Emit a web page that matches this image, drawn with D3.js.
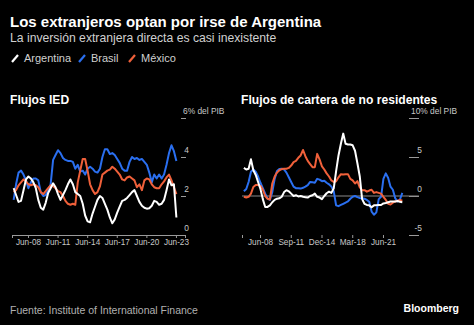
<!DOCTYPE html>
<html>
<head>
<meta charset="utf-8">
<script src="https://cdn.jsdelivr.net/npm/d3@7"></script>
<style>
  html, body { margin: 0; padding: 0; background: #000; }
  svg { display: block; font-family: "Liberation Sans", Arial, sans-serif; }
</style>
</head>
<body>
<svg id="chart" width="474" height="325"></svg>
<script>
var WIDTH = 474;
var HEIGHT = 325;

var seriesNames = ['Argentina', 'Brasil', 'México'];
var seriesColors = ['#ffffff', '#2a6ff0', '#f0603a'];

// Flujos IED, % del PIB, quarterly from Q1 2007
var iedStart = new Date(2007, 0, 1);
var iedArgentina = [2.4, 2.05, 1.7, 1.75, 2.3, 2.85, 3.0, 2.9, 2.7, 2.4, 1.8, 1.4, 1.3, 1.65, 2.15, 2.4,
    2.65, 2.45, 2.1, 1.8, 2.05, 2.3, 2.6, 2.85, 2.6, 2.2, 2.1, 2.0, 1.6, 1.0, 0.7, 0.65,
    1.1, 1.45, 1.8, 2.0, 1.9, 1.6, 1.3, 0.9, 0.6, 0.8, 1.15, 1.45, 1.75, 1.8, 1.9, 2.05,
    2.2, 2.3, 2.0, 1.7, 1.5, 1.4, 1.35, 1.37, 1.5, 1.75, 1.7, 1.55, 1.6, 1.8, 2.3, 2.85,
    2.55, 2.6, 0.9];
var iedBrasil = [1.8, 2.6, 3.2, 3.3, 3.1, 2.8, 2.4, 2.7, 2.9, 2.9, 2.8, 2.2, 2.0, 2.05, 2.3, 2.6,
    3.85, 4.1, 4.35, 4.2, 3.95, 3.85, 3.8, 3.8, 3.75, 3.4, 3.6, 3.25, 3.3, 3.1, 3.4, 3.5,
    3.4, 3.25, 3.2, 3.4, 4.0, 4.4, 4.4, 4.15, 4.2, 4.1, 3.9, 3.7, 3.4, 3.3, 3.3, 3.75,
    4.0, 3.9, 3.95, 3.85, 3.9, 3.75, 3.6, 3.2, 2.7, 3.1, 2.9, 3.1, 2.9, 3.1, 3.6, 4.2,
    4.6, 4.3, 3.8];
var iedMexico = [2.2, 2.3, 2.55, 2.7, 2.85, 2.75, 2.6, 2.55, 2.6, 2.55, 2.45, 2.2, 2.1, 2.25, 2.4, 2.55,
    2.5, 2.4, 2.25, 2.2, 2.0, 1.75, 1.6, 1.55, 1.6, 1.55, 2.7, 3.3, 3.9, 3.9, 3.3, 2.6,
    2.3, 2.1, 2.2, 2.5, 3.1, 3.2, 3.3, 3.35, 3.5, 3.4, 3.25, 3.1, 2.85, 2.8, 2.95, 3.0,
    2.9, 2.8, 2.45, 2.6, 2.3, 2.8, 2.9, 2.85, 2.6, 2.45, 2.4, 2.4, 2.6, 2.75, 2.95, 3.1,
    2.8, 2.45, 2.1];

// Flujos de cartera de no residentes, % del PIB, quarterly from Q4 2006
var carteraStart = new Date(2006, 9, 1);
var carteraArgentina = [3.6, 3.4, 3.5, 4.7, 3.3, 2.7, 1.8, 0.9, -0.4, -1.4, -1.4, -1.2, -0.8, -0.5, -0.35, -0.3,
    -0.1, 0.5, 0.75, 0.6, 0.3, 0.0, 0.1, -0.05, 0.0, -0.1, -0.15, -0.2, 0.0, 0.1, 0.3, -0.1,
    -0.2, -0.4, 0.0, 0.35, 0.55, 0.4, 1.0, 3.2, 5.2, 6.7, 8.0, 6.7, 6.6, 6.6, 6.5, 5.8,
    4.2, 2.5, -0.4, -1.0, -1.15, -1.2, -1.45, -1.2, -1.2, -1.15, -1.15, -0.95, -0.9, -0.8, -0.7, -0.7,
    -0.7, -0.65, -0.75, -0.8];
var carteraBrasil = [0.6, 0.9, 1.8, 3.1, 3.4, 3.1, 2.5, 1.7, 1.0, 0.3, -0.3, -0.5, 0.5, 2.2, 3.2, 3.45,
    3.5, 3.4, 3.0, 2.4, 1.8, 1.2, 1.0, 1.0, 0.95, 1.05, 1.2, 1.4, 1.8, 1.75, 1.7, 2.2,
    2.1, 1.9, 1.95, 1.7, 1.5, 1.2, 0.6, -1.2, -1.3, -1.15, -1.0, -0.85, -0.7, -0.35, -0.1, 0.0,
    -0.15, -0.25, -0.3, -0.35, -0.5, -0.75, -2.0, -2.4, -2.1, -0.4, -0.1, 2.2, 2.9, 2.3, 1.2, 0.8,
    -0.3, -0.7, -0.45, 0.4];
var carteraMexico = [-0.1, -0.2, -0.1, 0.3, 1.15, 1.4, 1.4, 1.3, 0.8, 0.0, -0.35, -0.45, 1.6, 2.5, 3.0, 3.3,
    3.45, 3.5, 3.5, 3.6, 3.9, 4.35, 4.5, 4.9, 5.2, 5.9, 5.1, 4.5, 4.1, 3.7, 3.7, 5.4,
    4.7, 3.8, 3.4, 2.9, 2.5, 2.0, 1.8, 1.9, 2.4, 2.8, 2.75, 2.8, 2.8, 2.2, 2.0, 1.6,
    1.9, 1.1, 0.75, 0.75, 0.55, 0.7, 0.8, 0.4, 0.5, 0.4, 0.3, -0.1, -0.5, -1.0, -1.1, -0.85,
    -0.7, -0.6, -0.5, -0.6];

var iedTicks = [0, 2, 4, 6];
var carteraTicks = [-5, 0, 5, 10];
var iedDateTicks = [new Date(2008, 5, 15), new Date(2011, 5, 15), new Date(2014, 5, 15),
    new Date(2017, 5, 15), new Date(2020, 5, 15), new Date(2023, 5, 15)];
var carteraDateTicks = [new Date(2008, 5, 15), new Date(2011, 8, 15), new Date(2014, 11, 15),
    new Date(2018, 2, 15), new Date(2021, 5, 15)];

var svg = d3.select('#chart');
svg.append('rect').attr('width', WIDTH).attr('height', HEIGHT).attr('fill', '#000');

// header
svg.append('text').attr('x', 10).attr('y', 27)
    .attr('fill', '#fff').attr('font-size', 15).attr('font-weight', 'bold')
    .text('Los extranjeros optan por irse de Argentina');
svg.append('text').attr('x', 10).attr('y', 42)
    .attr('fill', '#d0d0d0').attr('font-size', 12.2)
    .text('La inversión extranjera directa es casi inexistente');

var legendX = [11, 78, 128];
var legend = svg.append('g').selectAll('g')
    .data(seriesNames)
    .enter().append('g')
    .attr('transform', function(d, i){ return 'translate(' + legendX[i] + ',0)'; });
legend.append('line')
    .attr('x1', 1).attr('y1', 62).attr('x2', 7).attr('y2', 55)
    .attr('stroke', function(d, i){ return seriesColors[i]; })
    .attr('stroke-width', 2.2);
legend.append('text')
    .attr('x', 13).attr('y', 62)
    .attr('fill', '#d0d0d0').attr('font-size', 11)
    .text(function(d){ return d; });

var quarters = function(start, n){
    return d3.range(n).map(function(i){ return d3.timeMonth.offset(start, 3 * i); });
};

var drawPanel = function(opts){
    var g = svg.append('g');
    var dates = quarters(opts.start, opts.series[0].length);

    g.append('text').attr('x', opts.titleX).attr('y', 104)
        .attr('fill', '#fff').attr('font-size', 12.1).attr('font-weight', 'bold')
        .text(opts.title);

    var x = d3.scaleTime().domain(opts.xDomain).range(opts.xRange);
    var y = d3.scaleLinear().domain([opts.yTicks[0], opts.yTicks[opts.yTicks.length - 1]])
        .range([235, 118]);

    // y axis on the right: tick lines with labels sitting above them
    var yAxis = d3.axisRight(y).tickValues(opts.yTicks).tickSize(opts.tickLen)
        .tickFormat(function(d, i){ return i === opts.yTicks.length - 1 ? d + '% del PIB' : d; });
    var ya = g.append('g')
        .attr('transform', 'translate(' + opts.yAxisX + ',0)')
        .call(yAxis);
    ya.select('.domain').remove();
    ya.selectAll('line').attr('stroke', '#9a9a9a');
    ya.selectAll('text')
        .attr('fill', '#c8c8c8').attr('font-size', 8.4)
        .attr('dy', '-0.55em').attr('y', 0)
        .attr('text-anchor', function(d, i){ return i === opts.yTicks.length - 1 ? 'start' : 'end'; })
        .attr('x', function(d, i){ return i === opts.yTicks.length - 1 ? 2 : opts.tickLen + 3; });

    if (opts.zeroLine) {
        g.append('line')
            .attr('x1', opts.xRange[0]).attr('x2', opts.yAxisX + opts.tickLen)
            .attr('y1', y(0)).attr('y2', y(0))
            .attr('stroke', '#8a8a8a').attr('stroke-width', 1.2);
    }

    var xAxis = d3.axisBottom(x)
        .tickValues([opts.xDomain[0]].concat(opts.dateTicks).concat(opts.axisLine ? [opts.xDomain[1]] : []))
        .tickSize(3).tickSizeOuter(0)
        .tickFormat(function(d){
            return opts.dateTicks.indexOf(d) < 0 ? '' : d3.timeFormat('%b-%y')(d);
        });
    var xa = g.append('g')
        .attr('transform', 'translate(0,' + 235 + ')')
        .call(xAxis);
    if (opts.axisLine) {
        xa.select('.domain').attr('stroke', '#9a9a9a');
    } else {
        xa.select('.domain').remove();
    }
    xa.selectAll('line').attr('stroke', '#9a9a9a');
    xa.selectAll('text').attr('fill', '#c8c8c8').attr('font-size', 8.2).attr('y', 4.5);

    var line = d3.line()
        .x(function(d, i){ return x(dates[i]); })
        .y(function(d){ return y(d); });

    // draw Brasil and México first, Argentina on top
    [1, 2, 0].forEach(function(k){
        g.append('path')
            .attr('d', line(opts.series[k]))
            .attr('fill', 'none')
            .attr('stroke', seriesColors[k])
            .attr('stroke-width', 2)
            .attr('stroke-linejoin', 'round');
    });
};

drawPanel({
    title: 'Flujos IED',
    titleX: 10,
    start: iedStart,
    series: [iedArgentina, iedBrasil, iedMexico],
    xDomain: [new Date(2006, 10, 1), new Date(2024, 4, 15)],
    xRange: [12, 185],
    dateTicks: iedDateTicks,
    yTicks: iedTicks,
    yAxisX: 181,
    tickLen: 5,
    axisLine: true,
    zeroLine: false
});

drawPanel({
    title: 'Flujos de cartera de no residentes',
    titleX: 241,
    start: carteraStart,
    series: [carteraArgentina, carteraBrasil, carteraMexico],
    xDomain: [new Date(2006, 6, 20), new Date(2024, 2, 15)],
    xRange: [242, 409],
    dateTicks: carteraDateTicks,
    yTicks: carteraTicks,
    yAxisX: 409,
    tickLen: 10,
    axisLine: false,
    zeroLine: true
});

// footer
svg.append('text').attr('x', 10).attr('y', 314)
    .attr('fill', '#b0b0b0').attr('font-size', 10.5)
    .text('Fuente: Institute of International Finance');
svg.append('text').attr('x', 459).attr('y', 312)
    .attr('text-anchor', 'end')
    .attr('fill', '#fff').attr('font-size', 10.5).attr('font-weight', 'bold')
    .text('Bloomberg');
</script>
</body>
</html>
